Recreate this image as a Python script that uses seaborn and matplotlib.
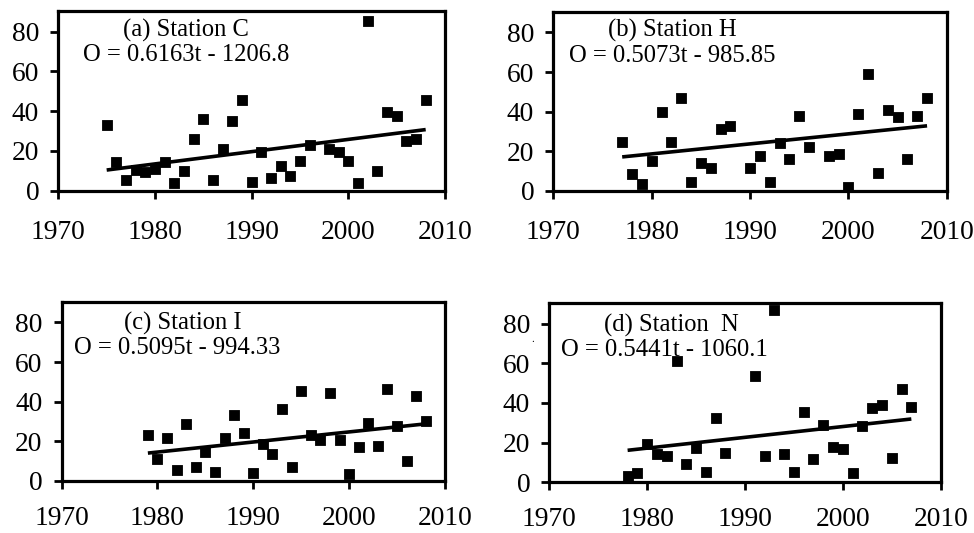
import numpy as np
import pandas as pd
import matplotlib
matplotlib.use("Agg")
import matplotlib.pyplot as plt
import seaborn as sns

# ---------------- data ----------------
years_c = list(range(1975, 1997)) + list(range(1998, 2009))
vals_c = [33.2, 14.3, 5.3, 10.3, 9.3, 10.8, 14.3, 3.7, 10.1, 25.9, 35.9, 5.3,
          20.8, 34.9, 45.7, 4.5, 19.6, 6.3, 12.6, 7.4, 15.1, 23.2,
          20.8, 19.6, 15.1, 3.7, 85.5, 10.1, 39.4, 37.6, 25.2, 26.0, 45.7]

years_h = list(range(1977, 1989)) + list(range(1990, 1997)) + list(range(1998, 2009))
vals_h = [24.8, 8.3, 3.6, 14.9, 39.8, 24.8, 46.7, 4.4, 14.1, 11.6, 31.0, 32.7,
          11.6, 17.6, 4.4, 24.0, 16.1, 37.6, 22.3,
          17.6, 18.6, 1.9, 38.8, 59.1, 9.1, 40.6, 37.2, 16.1, 38.0, 46.7]

years_i = list(range(1979, 2009))
vals_i = [23.0, 11.0, 21.4, 5.4, 28.5, 7.0, 14.3, 4.5, 21.4, 33.0, 24.1, 3.7,
          18.4, 13.4, 36.5, 7.0, 45.3, 23.3, 20.5, 44.5, 20.5, 3.4, 17.1, 29.4,
          17.6, 46.2, 27.6, 10.1, 42.8, 30.2]

years_n = list(range(1978, 1989)) + list(range(1991, 2008))
vals_n = [3.3, 4.5, 19.1, 14.3, 13.3, 61.2, 9.0, 17.1, 5.3, 32.2, 15.0,
          53.5, 13.4, 86.6, 14.3, 5.3, 35.6, 11.6, 28.8, 17.9, 16.7, 4.5,
          28.4, 37.2, 39.2, 12.4, 46.9, 38.0]

panel_titles = ["(a) Station C", "(b) Station H", "(c) Station I", "(d) Station  N"]
equations = ["O = 0.6163t - 1206.8", "O = 0.5073t - 985.85",
             "O = 0.5095t - 994.33", "O = 0.5441t - 1060.1"]
slopes = [0.6163, 0.5073, 0.5095, 0.5441]
intercepts = [-1206.8, -985.85, -994.33, -1060.1]

x_ticks = [1970, 1980, 1990, 2000, 2010]
y_ticks = [0, 20, 40, 60, 80]

# ---------------- style ----------------
sns.set_theme(style="ticks")
plt.rcParams['font.family'] = ['Liberation Serif', 'DejaVu Serif']
plt.rcParams['axes.linewidth'] = 2.3
plt.rcParams['xtick.major.width'] = 2.0
plt.rcParams['ytick.major.width'] = 2.0
plt.rcParams['xtick.major.size'] = 5.8
plt.rcParams['ytick.major.size'] = 5.8
plt.rcParams['xtick.direction'] = 'out'
plt.rcParams['ytick.direction'] = 'out'

fig = plt.figure(figsize=(9.74, 5.33), dpi=100)
fig.patch.set_facecolor('white')

positions = [
    [0.0599, 0.6422, 0.3970, 0.3377],
    [0.5681, 0.6422, 0.4039, 0.3358],
    [0.0633, 0.0981, 0.3935, 0.3358],
    [0.5640, 0.0951, 0.4018, 0.3370],
]
x_pads = [15.5, 15.5, 12.5, 12.0]
title_pos = [(0.330, 0.893), (0.302, 0.893), (0.315, 0.879), (0.312, 0.876)]
eq_pos = [(0.330, 0.754), (0.302, 0.754), (0.302, 0.740), (0.293, 0.738)]

datasets = [(years_c, vals_c), (years_h, vals_h), (years_i, vals_i), (years_n, vals_n)]

for k, ((yrs, vals), pos) in enumerate(zip(datasets, positions)):
    ax = fig.add_axes(pos)
    df = pd.DataFrame({"year": yrs, "value": vals})
    sns.scatterplot(data=df, x="year", y="value", ax=ax, marker="s", s=58,
                    color="black", edgecolor="black", linewidth=0.6, zorder=3)
    tx = np.array([min(yrs), max(yrs)], dtype=float)
    tdf = pd.DataFrame({"year": tx, "trend": slopes[k] * tx + intercepts[k]})
    sns.lineplot(data=tdf, x="year", y="trend", ax=ax, color="black",
                 linewidth=2.6, zorder=4, solid_capstyle="butt")
    ax.set_xlim(1970, 2010)
    ax.set_ylim(0, 90.5)
    ax.set_xticks(x_ticks)
    ax.set_yticks(y_ticks)
    ax.set_xticklabels([str(t) for t in x_ticks])
    ax.set_yticklabels([str(t) for t in y_ticks])
    ax.tick_params(axis='x', labelsize=19.8, pad=x_pads[k], colors='black')
    ax.tick_params(axis='y', labelsize=19.8, pad=8.0, colors='black')
    ax.set_xlabel("")
    ax.set_ylabel("")
    for sp in ax.spines.values():
        sp.set_visible(True)
        sp.set_color("black")
        sp.set_linewidth(2.3)
    ax.set_facecolor("white")
    ax.text(title_pos[k][0], title_pos[k][1], panel_titles[k], transform=ax.transAxes,
            ha="center", va="center", fontsize=17.7, color="black")
    ax.text(eq_pos[k][0], eq_pos[k][1], equations[k], transform=ax.transAxes,
            ha="center", va="center", fontsize=17.7, color="black")

# stray dot present in the original figure
fig.text(532.3 / 974, 1 - 340 / 533, ".", fontsize=8, ha="center", va="center", color="black")

fig.savefig("out.png", dpi=100, facecolor="white")
